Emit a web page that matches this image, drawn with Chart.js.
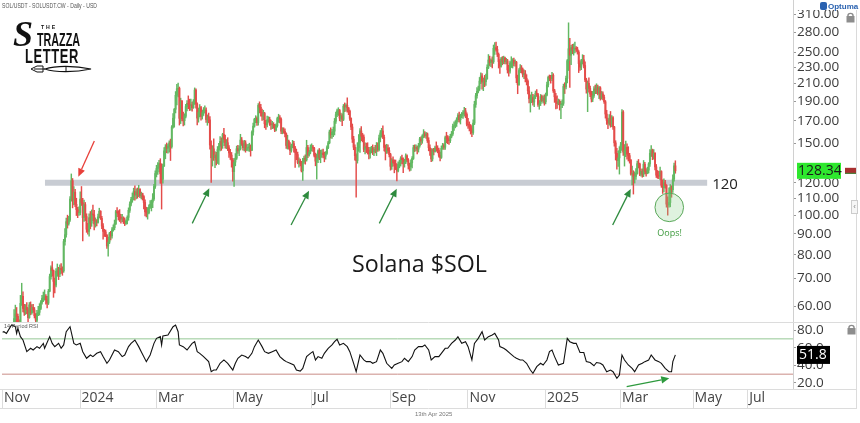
<!DOCTYPE html>
<html><head><meta charset="utf-8">
<script src="https://cdn.jsdelivr.net/npm/chart.js@4.4.1/dist/chart.umd.min.js"></script>
<style>
html,body{margin:0;padding:0;background:#fff;}
#wrap{position:relative;width:860px;height:423px;overflow:hidden;background:#fff;font-family:"Open Sans",sans-serif;}
#wrap canvas{position:absolute;left:0;}
.t{position:absolute;white-space:nowrap;line-height:1;transform-origin:0 0;}
</style></head><body>
<div id="wrap">
<canvas id="price" width="860" height="322" style="top:0"></canvas>
<canvas id="rsi" width="860" height="101" style="top:322px"></canvas>
<div class="t" id="ttl" style="left:2px;top:2px;font-size:7px;color:#555;font-family:'Liberation Sans'">SOL/USDT - SOLUSDT.CW - Daily - USD</div>
<div class="t" style="left:13px;top:13px;font:italic bold 36px 'Liberation Serif';color:#111">S</div>
<div class="t" id="lthe" style="left:41px;top:23.6px;font:bold 5.6px 'Liberation Sans';color:#111;letter-spacing:2px">THE</div>
<div class="t" id="ltra" style="left:37px;top:29.7px;font:bold 18px 'Liberation Sans';color:#111">TRAZZA</div>
<div class="t" id="llet" style="left:25px;top:44.2px;font:bold 21px 'Liberation Sans';color:#111;letter-spacing:1px">LETTER</div>
<svg style="position:absolute;left:30px;top:64px" width="62" height="10" viewBox="0 0 62 10">
 <path d="M1 5 L7 2 L13 2 L13 8 L7 8 Z" fill="none" stroke="#111" stroke-width="1"/>
 <line x1="4" y1="5" x2="15" y2="5" stroke="#111" stroke-width="1"/>
 <path d="M15 5 C25 1.5 45 1.5 61 5 C45 8.5 25 8.5 15 5 Z" fill="#fff" stroke="#111" stroke-width="1.1"/>
 <line x1="36" y1="2.5" x2="36" y2="7.5" stroke="#111" stroke-width="1"/>
</svg>
<div class="t" id="sol" style="left:352px;top:251px;font-size:24px;color:#1a1a1a">Solana $SOL</div>
<div class="t" style="left:4px;top:324px;font-size:5.5px;color:#555;font-family:'Liberation Sans'">14 Period RSI</div>
<div class="t" style="left:415px;top:411px;font-size:6px;color:#777;font-family:'Liberation Sans'">13th Apr 2025</div>
<div style="position:absolute;left:796px;top:0;width:64px;height:10px;background:#fff"></div>
<div style="position:absolute;left:820px;top:2px;width:7px;height:8px;background:#2a62b0;border-radius:2px"></div>
<div class="t" style="left:828px;top:2px;font:bold 8px 'Liberation Sans';color:#2a62b0">Optuma</div>
<div style="position:absolute;left:851px;top:200px;width:5px;height:12px;border:1px solid #ccc;background:#f6f6f6;font:8px 'Liberation Sans';color:#888;line-height:12px;text-align:center">&lsaquo;</div>
</div>
<script>
// ---------- DATA ----------
const firstOpen = 38.6; // Nov 1 2023 open (day 0 = 2023-11-01, daily)
const closes = [
// Nov 2023
40.0,42.6,39.8,40.5,41.4,43.0,42.9,43.3,45.6,55.9,57.4,56.6,53.9,52.6,60.9,63.4,59.2,58.0,59.6,58.7,56.2,60.4,57.8,59.5,58.7,56.8,55.4,57.5,57.9,59.2,
// Dec 2023
61.3,62.6,63.1,63.4,62.2,61.0,65.2,70.8,74.4,73.2,68.9,67.5,72.9,73.4,71.8,74.1,73.6,73.1,86.2,89.6,96.4,95.5,97.4,109.5,121.4,108.9,113.8,106.3,103.2,101.4,101.5,
// Jan 2024
109.5,107.2,98.6,106.1,99.2,92.4,91.3,98.6,95.6,100.7,100.1,95.2,96.2,96.0,99.1,102.2,98.2,94.1,91.3,91.0,89.4,84.1,85.9,90.1,89.0,92.1,93.2,95.3,102.0,101.4,100.6,
// Feb 2024
98.9,97.8,98.2,96.3,95.5,96.8,98.8,102.8,106.4,109.2,110.7,114.2,112.0,113.9,112.6,115.6,111.5,112.9,111.0,107.4,101.9,101.2,101.3,104.6,106.3,107.6,109.6,117.5,126.4,
// Mar 2024
130.0,130.8,133.7,126.2,122.4,131.8,143.6,146.7,145.8,147.6,150.2,147.1,164.2,172.5,181.4,196.3,203.6,204.0,172.4,189.8,172.0,170.1,174.4,184.2,187.6,186.6,185.3,186.0,183.1,189.4,202.1,
// Apr 2024
186.8,172.6,178.4,183.2,174.3,178.1,180.3,180.6,171.2,173.5,170.9,148.3,138.1,145.2,138.1,140.3,136.4,144.6,147.3,151.4,147.8,157.5,153.4,147.9,150.3,146.0,141.9,140.2,136.3,127.8,
// May 2024
134.8,137.8,145.3,143.6,145.1,152.6,149.4,146.2,150.1,144.6,145.9,146.3,147.0,144.1,159.6,165.0,171.5,172.3,168.3,185.4,183.4,178.1,174.6,177.2,167.2,166.2,171.0,171.3,167.2,166.4,166.8,
// Jun 2024
166.0,161.4,165.5,172.2,172.8,171.6,160.4,161.6,160.2,158.1,148.0,151.6,147.3,144.0,147.8,149.5,146.0,142.3,140.6,134.5,135.6,133.6,128.3,135.0,137.8,136.4,146.3,140.2,142.6,146.3,
// Jul 2024
146.8,145.8,140.0,135.5,137.6,143.7,138.2,141.0,141.8,140.6,139.4,141.6,146.2,150.2,159.7,157.2,159.3,160.4,169.6,176.0,179.9,180.2,172.6,174.8,171.4,184.6,183.9,185.4,182.8,179.6,172.4,
// Aug 2024
164.2,153.4,146.6,139.8,136.0,146.3,150.8,160.6,155.8,155.2,144.8,147.0,146.4,144.2,141.2,143.6,145.4,143.0,144.6,144.2,147.8,144.6,154.4,158.8,160.6,155.0,146.4,143.0,145.8,143.8,140.6,
// Sep 2024
131.6,136.4,134.2,133.8,130.6,128.2,133.0,134.6,137.8,136.6,133.6,134.8,139.6,136.4,132.4,131.4,134.2,137.6,146.2,145.8,146.4,145.0,147.8,153.6,151.8,156.2,158.0,156.4,158.0,152.2,
// Oct 2024
146.2,143.6,137.2,143.8,143.2,146.0,145.6,144.2,140.0,138.4,145.6,147.8,146.6,154.6,154.0,152.8,152.0,155.8,158.0,165.0,165.4,167.6,171.2,175.2,171.0,175.0,176.4,177.6,179.8,176.2,166.8,
// Nov 2024
166.2,164.2,162.6,159.2,167.8,186.4,195.8,200.6,203.4,212.6,218.8,211.4,212.0,211.8,215.2,229.8,239.4,236.0,238.8,237.0,255.6,256.4,254.0,247.0,237.2,231.2,241.0,237.4,242.2,237.0,
// Dec 2024
238.2,226.4,224.8,235.4,236.2,238.8,235.0,236.4,216.4,208.4,225.6,229.2,226.8,220.6,221.8,216.0,212.6,201.2,192.4,192.8,193.6,189.0,194.8,198.6,197.0,186.4,187.2,194.8,190.6,193.2,189.2,
// Jan 2025
196.4,208.2,217.0,216.6,215.4,219.6,201.2,194.6,189.0,187.2,189.6,186.2,186.4,187.6,206.2,205.8,215.8,238.4,255.0,246.0,256.6,252.8,254.6,255.8,254.4,250.2,234.6,230.0,236.6,239.6,232.0,
// Feb 2025
214.0,203.2,209.8,204.0,197.6,192.2,196.0,203.4,202.8,205.0,198.6,204.6,193.4,197.8,194.0,189.2,176.6,170.4,167.8,172.0,167.2,173.0,164.2,150.2,141.6,136.0,138.0,144.0,
// Mar 2025
148.4,178.6,142.6,143.8,146.4,141.0,139.8,136.4,126.0,126.4,124.2,124.4,126.6,133.6,133.4,126.0,128.0,126.0,133.2,128.0,126.4,128.8,133.4,141.6,143.8,139.2,141.6,131.2,125.2,124.8,124.6,
// Apr 2025
127.8,118.4,116.8,120.0,118.2,106.4,106.0,107.4,116.8,115.4,122.6,132.0,128.34
];
const highs = [
41.5,43.7,43.0,41.2,42.3,44.3,44.0,44.2,46.8,58.8,60.3,59.5,57.3,55.5,63.7,68.2,65.0,60.6,60.5,61.2,59.4,61.2,61.4,60.5,60.6,59.5,57.5,58.6,59.9,60.8,
61.9,63.7,64.9,65.7,64.0,63.4,65.9,71.8,75.2,77.0,73.5,70.2,74.1,76.0,74.6,75.6,76.2,74.8,87.3,92.8,98.4,100.0,99.3,111.0,126.1,122.9,117.5,115.6,110.0,104.5,104.8,
114.0,117.5,109.9,108.8,107.4,100.8,95.5,100.8,102.1,103.0,105.8,102.8,98.5,97.6,100.6,104.0,102.6,99.4,95.4,92.4,92.0,89.7,88.4,90.8,91.3,93.2,94.7,97.3,102.8,104.4,102.6,
103.2,100.5,100.5,99.1,98.5,97.4,99.7,104.2,107.8,110.6,113.3,116.4,118.0,116.0,116.5,118.3,116.2,113.9,113.2,111.7,109.0,104.6,104.4,106.0,108.5,108.8,112.9,119.0,128.3,
132.4,134.4,136.2,137.4,133.5,133.3,146.2,148.7,150.1,149.2,152.0,153.4,165.6,177.0,182.3,200.4,208.6,210.3,205.6,193.1,190.7,178.6,176.9,186.6,190.6,195.6,192.0,192.2,189.0,191.6,204.6,
203.5,188.0,182.6,186.3,184.4,180.7,183.2,185.0,183.0,175.8,177.6,174.0,152.0,147.8,153.6,143.0,142.4,147.1,149.7,155.5,154.5,158.5,163.0,157.0,153.0,154.6,148.0,144.8,142.3,137.6,
137.4,141.4,147.5,148.2,147.8,157.6,154.8,151.7,152.4,152.0,148.7,149.0,149.9,148.5,160.8,167.8,172.5,175.0,173.9,187.3,189.2,186.4,181.5,180.4,178.3,170.5,174.6,174.0,173.5,170.8,169.6,
168.3,166.8,167.2,173.6,176.4,175.2,173.0,163.6,163.5,162.6,159.0,156.8,152.6,150.5,149.0,152.3,151.4,147.2,145.0,142.6,138.0,137.0,135.4,137.6,139.5,140.4,152.4,148.2,144.0,148.5,
149.4,148.2,146.5,141.8,141.0,144.5,145.5,144.2,144.5,145.0,142.6,143.0,147.6,151.4,161.4,163.5,162.0,164.2,172.3,178.5,181.6,183.0,181.3,177.5,176.8,186.4,188.0,187.0,193.5,183.3,180.6,
172.8,167.0,155.8,148.6,141.2,150.3,157.4,162.8,164.6,158.5,157.2,150.2,150.0,150.3,146.4,146.5,147.3,148.5,146.5,148.2,150.5,150.2,157.0,161.0,163.0,165.2,157.0,148.5,149.0,148.5,146.2,
141.6,137.5,138.8,136.5,136.4,133.4,135.0,136.3,139.0,140.2,138.0,137.0,141.2,140.4,137.5,134.0,136.5,139.0,148.2,148.5,148.6,147.4,149.8,155.0,155.4,157.2,161.8,160.0,159.3,158.8,
154.6,148.6,145.5,145.3,145.6,147.5,151.0,147.8,145.8,142.6,147.6,149.8,149.4,156.0,159.4,156.4,155.5,157.6,160.2,167.0,169.0,170.2,173.0,177.0,178.6,176.5,178.2,180.2,183.4,182.4,177.8,
172.4,169.0,166.5,165.6,171.0,189.8,198.4,205.0,206.6,217.0,222.6,221.8,216.4,219.5,221.2,233.0,246.8,244.6,241.0,243.8,260.4,263.8,264.6,258.6,249.0,240.0,243.0,244.0,244.6,243.2,
241.6,240.2,232.4,238.0,243.8,241.2,242.0,239.6,237.6,219.8,228.0,233.4,232.0,228.6,226.4,225.6,220.4,214.2,206.0,196.8,199.8,197.2,196.4,201.0,202.8,198.4,190.6,197.2,196.4,195.6,196.8,
198.8,211.4,218.8,220.0,219.6,223.4,221.6,203.0,198.4,195.6,192.2,191.4,189.6,191.2,209.0,210.6,218.8,240.0,295.0,270.4,260.0,261.4,262.0,264.6,258.2,257.2,252.4,238.6,240.2,246.6,245.8,
237.0,216.0,212.6,216.4,206.6,200.8,200.6,206.0,208.0,209.4,208.0,206.4,206.0,200.6,200.2,196.6,190.6,180.4,172.6,176.0,179.2,175.2,174.0,164.8,152.0,145.6,143.4,147.0,
150.6,181.0,180.2,148.8,151.6,149.4,147.0,141.6,136.8,131.8,128.4,127.6,130.0,135.6,136.8,134.0,129.6,129.8,136.0,134.6,130.0,131.0,134.4,144.6,148.0,145.0,144.6,142.2,133.0,128.6,128.0,
131.0,128.4,122.0,122.6,121.6,118.8,110.8,116.6,118.8,118.0,125.4,134.0,135.8
];
const lows = [
38.0,39.6,38.5,38.9,40.1,41.1,41.6,41.9,42.6,45.2,54.2,54.8,52.0,50.6,52.3,60.2,58.0,56.9,57.2,57.5,54.6,56.0,57.1,57.3,57.9,56.1,54.1,54.6,56.8,57.0,
58.8,60.6,61.5,62.0,60.6,59.4,60.5,65.0,69.8,71.0,63.0,64.6,66.8,70.9,69.6,70.8,72.1,71.3,72.5,84.5,88.4,93.0,94.6,96.6,108.2,104.2,106.0,104.9,99.8,98.6,99.9,
100.2,105.6,86.5,96.5,97.0,90.8,89.9,88.9,92.6,93.9,97.0,92.0,93.5,94.2,95.6,98.6,97.6,92.7,87.4,88.7,88.6,83.0,79.4,85.2,87.0,87.9,91.4,92.1,94.8,99.1,97.3,
96.5,95.6,96.4,95.4,94.3,95.0,95.2,97.2,101.6,105.4,107.5,108.9,108.8,109.5,110.0,111.0,110.3,109.6,108.9,103.6,99.6,99.0,97.8,100.7,103.9,102.4,104.3,108.6,116.2,
124.0,125.8,127.5,119.6,103.5,119.7,131.6,137.3,142.0,141.8,142.6,136.0,145.8,163.1,164.0,177.7,186.0,194.6,166.0,167.4,170.0,165.2,166.0,172.8,179.7,182.0,180.1,180.4,179.6,182.3,186.4,
182.6,166.2,168.7,174.1,170.7,171.7,175.2,177.6,168.5,165.8,168.1,145.0,120.2,131.8,136.0,130.6,132.6,133.7,133.1,143.5,144.0,145.6,150.5,145.7,145.3,143.8,138.3,136.8,131.0,121.0,
117.5,132.0,136.8,141.6,139.7,144.3,148.0,144.2,143.5,142.5,143.8,143.5,143.1,139.4,143.8,156.8,164.0,168.2,165.7,166.0,177.7,174.6,170.5,171.0,163.5,162.0,164.3,168.6,165.6,161.9,162.6,
163.0,160.0,160.6,164.0,168.5,168.0,158.2,158.0,158.5,155.2,145.5,145.0,145.0,140.6,142.5,146.0,142.5,130.8,136.6,133.5,131.0,132.0,127.5,121.6,133.8,133.2,135.5,138.2,139.3,141.2,
143.5,143.1,138.8,132.0,122.5,134.4,136.6,134.3,138.6,137.9,135.0,137.0,140.8,145.3,149.4,154.3,154.0,155.5,157.0,167.5,174.0,175.2,170.0,169.4,165.5,170.2,179.0,179.5,178.5,176.0,170.3,
161.8,150.5,144.5,136.3,110.6,134.0,143.2,142.4,152.0,151.0,143.0,141.2,142.2,141.0,137.3,137.8,142.0,140.6,139.8,142.0,139.8,143.2,143.5,151.0,155.2,153.8,143.5,136.4,141.5,141.8,138.7,
128.8,129.4,131.8,126.9,129.2,121.2,127.6,130.5,131.8,133.4,127.0,131.0,133.6,135.2,129.6,128.1,128.6,130.5,136.8,143.0,143.5,141.2,142.6,146.5,148.6,149.8,154.5,154.8,154.0,150.5,
143.6,140.0,135.2,135.6,140.3,142.5,143.2,142.0,138.6,135.6,137.6,144.8,144.8,144.8,150.2,149.6,148.8,150.4,154.5,156.7,161.0,163.4,164.7,169.2,168.7,167.0,173.0,172.4,174.6,173.0,165.3,
162.8,160.6,157.8,155.6,157.4,166.4,183.4,193.2,199.0,201.6,209.4,203.0,201.4,206.0,207.4,215.0,228.0,232.0,230.4,229.0,234.8,246.8,251.6,244.0,228.8,222.0,229.8,233.0,234.4,234.0,
234.2,222.4,218.6,222.2,229.4,228.8,231.4,231.2,210.6,198.0,207.4,223.0,222.4,217.6,215.4,211.6,208.0,197.8,188.0,178.6,188.2,185.6,184.2,192.6,195.0,184.4,181.4,185.2,189.0,187.8,185.6,
187.0,195.6,205.8,213.0,210.2,213.0,199.4,188.6,181.8,182.4,186.0,180.6,172.0,183.0,185.4,198.2,203.4,210.4,225.6,205.0,233.0,248.0,246.0,249.0,251.0,247.4,223.0,225.6,226.8,234.0,228.8,
212.0,198.6,179.0,199.8,194.8,189.0,189.4,194.0,198.0,198.0,196.6,192.6,191.0,192.0,191.2,187.4,172.6,166.6,162.6,166.0,164.0,164.4,162.0,147.4,136.4,129.6,131.6,126.0,
142.0,144.2,140.0,131.8,139.0,137.0,135.6,134.0,125.2,118.6,112.6,119.8,122.2,126.0,130.4,124.8,124.6,123.8,124.2,126.2,124.6,126.2,126.8,131.6,139.2,136.6,137.0,129.0,123.6,123.0,122.8,
122.0,117.0,113.0,114.0,116.4,104.6,100.0,104.6,104.8,110.6,113.6,121.0,126.6
];
// 14-period RSI: [day index, value]
const rsiPoints = [[0,77.5],[1,78.1],[3,76.2],[7,85.7],[10,83.8],[11,76.2],[12,81.9],[14,72.5],[16,68.7],[19,55.5],[22,59.3],[24,57.4],[27,61.2],[29,59.3],[32,64.9],[33,59.3],[37,72.5],[39,64.9],[41,61.2],[44,64.9],[46,59.3],[48,63.1],[50,78.1],[53,83.8],[56,64.9],[58,63.1],[61,64.9],[63,55.5],[66,48.0],[69,51.7],[71,49.9],[74,53.6],[77,55.5],[79,49.9],[82,42.3],[84,46.1],[88,57.4],[91,55.5],[94,49.9],[96,51.7],[99,61.2],[101,64.9],[104,68.7],[107,61.2],[109,55.5],[113,44.2],[116,51.7],[119,64.9],[121,70.6],[124,72.5],[125,63.1],[126,73.2],[130,74.3],[134,83.8],[136,85.7],[138,78.1],[139,63.1],[142,61.2],[145,57.4],[149,64.9],[151,66.8],[153,55.5],[155,53.6],[158,49.9],[162,44.2],[164,32.8],[166,34.7],[168,34.7],[171,42.3],[174,46.1],[177,42.3],[181,34.7],[183,42.3],[185,48.0],[188,51.7],[191,49.9],[193,48.0],[196,53.6],[198,61.2],[201,68.7],[204,61.2],[206,55.5],[209,53.6],[212,55.5],[215,57.4],[218,49.9],[221,46.1],[223,44.2],[226,42.3],[229,40.4],[231,34.7],[234,33.5],[236,36.6],[239,49.9],[242,53.6],[244,55.5],[246,46.1],[248,49.9],[251,48.0],[253,53.6],[256,59.3],[259,63.1],[261,66.8],[263,69.5],[265,63.1],[268,64.9],[271,61.2],[273,55.5],[276,42.3],[278,32.8],[281,51.7],[284,46.1],[286,44.2],[289,44.2],[291,42.3],[294,44.2],[297,57.4],[299,53.6],[302,42.3],[306,36.6],[308,40.4],[311,42.3],[314,44.2],[316,48.0],[319,44.2],[322,49.9],[324,57.4],[327,61.2],[330,61.2],[332,63.1],[335,57.4],[337,46.1],[340,49.9],[343,49.9],[345,53.6],[348,59.3],[350,59.3],[353,64.9],[356,68.7],[358,72.5],[361,64.9],[364,66.8],[366,61.2],[369,46.1],[371,64.9],[374,70.6],[377,78.1],[379,68.7],[382,72.5],[385,74.3],[387,76.2],[390,68.7],[391,61.2],[394,59.3],[396,57.4],[399,53.6],[402,49.9],[404,48.0],[407,46.1],[409,46.1],[412,42.3],[415,34.7],[417,31.0],[420,38.5],[423,42.3],[425,40.4],[428,46.1],[430,55.5],[432,57.4],[434,49.9],[437,40.4],[441,42.3],[444,70.6],[446,66.8],[449,64.9],[451,64.9],[454,54.5],[457,54.5],[459,44.2],[462,43.2],[465,39.5],[467,43.2],[470,42.3],[472,40.4],[475,32.8],[478,34.7],[480,32.8],[483,25.3],[485,29.1],[487,51.7],[489,46.1],[492,40.4],[495,36.6],[497,32.8],[500,40.4],[503,42.3],[505,44.2],[508,46.1],[510,51.7],[513,46.1],[516,44.2],[518,42.3],[521,36.6],[524,32.8],[526,32.8],[527,44.2],[529,51.8]];
const rsiLevels = [70, 30];
const priceTicks = [60,70,80,90,100,110,120,150,170,190,210,230,250,280,310];
const rsiTicks = [20,40,60,80];
const monthLabels = ['Nov','2024','Mar','May','Jul','Sep','Nov','2025','Mar','May','Jul'];
const monthDays = [0,61,121,182,243,305,366,427,486,543,586];
const supportLevel = 120;
const lastClose = 128.34, lastRsi = 51.8;

// ---------- ANNOTATIONS (data coordinates) ----------
const notes = {
  band: {from: 33.3, to: 554},
  redArrow: [[72.1,151.7],[59.5,124.2]],
  greenArrows: [[[149.1,95.5],[162.5,116.3]],[[226.8,94.6],[240.9,114.8]],[[296.2,95.5],[309.9,116.1]],[[479.7,94.6],[493.9,115.9]]],
  circle: [524.2,104.5],
  oops: [524.5,90],
  rsiArrow: [[490.7,15.8],[524.2,25.3]]
};

// ---------- BUILD ----------
const X_MIN = -0.5, X_MAX = 621.5;
const GREEN = '#62b862', RED = '#e44c4a';
const days = closes.map((_, i) => i);
const opens = closes.map((c, i) => i === 0 ? firstOpen : closes[i-1]);
const colors = days.map(i => closes[i] >= opens[i] ? GREEN : RED);
const wickData = days.map(i => ({x: i, y: [Math.min(lows[i], opens[i], closes[i]), Math.max(highs[i], opens[i], closes[i])]}));
const bodyData = days.map(i => ({x: i, y: [opens[i], closes[i]]}));

function arrow(ctx, x1, y1, x2, y2, color, lw) {
  const a = Math.atan2(y2-y1, x2-x1), hl = 8, hw = 3.6;
  const bx = x2 - hl*Math.cos(a), by = y2 - hl*Math.sin(a);
  ctx.save();
  ctx.strokeStyle = color; ctx.lineWidth = lw;
  ctx.beginPath(); ctx.moveTo(x1,y1); ctx.lineTo(bx,by); ctx.stroke();
  ctx.fillStyle = color; ctx.beginPath(); ctx.moveTo(x2,y2);
  ctx.lineTo(bx - hw*Math.sin(a), by + hw*Math.cos(a));
  ctx.lineTo(bx + hw*Math.sin(a), by - hw*Math.cos(a));
  ctx.closePath(); ctx.fill(); ctx.restore();
}
function lock(ctx, x, y) {
  ctx.save(); ctx.fillStyle = '#8d8d8d'; ctx.strokeStyle = '#8d8d8d'; ctx.lineWidth = 1.4;
  ctx.beginPath(); ctx.arc(x+4.5, y+4, 2.6, Math.PI, 0); ctx.stroke();
  ctx.fillRect(x+0.5, y+4, 8, 6.5); ctx.restore();
}

const pricePlugin = {
  id: 'pricePlugin',
  beforeDatasetsDraw(chart) {
    const {ctx, scales:{x, y}} = chart;
    const yy = y.getPixelForValue(supportLevel);
    ctx.save(); ctx.strokeStyle = '#c8ccd3'; ctx.lineWidth = 6;
    ctx.beginPath(); ctx.moveTo(x.getPixelForValue(notes.band.from), yy); ctx.lineTo(x.getPixelForValue(notes.band.to), yy); ctx.stroke();
    ctx.restore();
  },
  afterDatasetsDraw(chart) {
    const {ctx, scales:{x, y}} = chart;
    const P = p => [x.getPixelForValue(p[0]), y.getPixelForValue(p[1])];
    const yy = y.getPixelForValue(supportLevel);
    ctx.save();
    ctx.fillStyle = '#222'; ctx.font = '15px "Open Sans"'; ctx.textBaseline = 'middle';
    ctx.fillText(String(supportLevel), x.getPixelForValue(notes.band.to) + 5, yy + 2);
    let [a, b] = notes.redArrow.map(P); arrow(ctx, a[0], a[1], b[0], b[1], '#e8403a', 1.3);
    notes.greenArrows.forEach(g => { const [s, e] = g.map(P); arrow(ctx, s[0], s[1], e[0], e[1], '#2e8b3e', 1.3); });
    const c = P(notes.circle);
    ctx.beginPath(); ctx.arc(c[0], c[1], 14.3, 0, Math.PI*2);
    ctx.fillStyle = 'rgba(140,210,140,0.28)'; ctx.fill();
    ctx.strokeStyle = '#5aa85a'; ctx.lineWidth = 1; ctx.stroke();
    const o = P(notes.oops);
    ctx.fillStyle = '#3d9a3d'; ctx.font = '9px "Open Sans"'; ctx.textAlign = 'center';
    ctx.fillText('Oops!', o[0], o[1]);
    // last price badge
    const by = y.getPixelForValue(lastClose);
    ctx.fillStyle = '#2ee82e'; ctx.fillRect(797, by - 8, 44, 16);
    ctx.fillStyle = '#1a1a1a'; ctx.font = '14px "Open Sans"'; ctx.textAlign = 'left';
    ctx.fillText(lastClose.toFixed(2), 798, by + 0.5);
    ctx.fillStyle = '#a83030'; ctx.fillRect(845, by - 3, 11, 6);
    ctx.fillStyle = '#3a8a3a'; ctx.fillRect(845, by + 2, 11, 1);
    lock(ctx, 846, 12);
    ctx.strokeStyle = '#dadada'; ctx.lineWidth = 1;
    ctx.beginPath(); ctx.moveTo(856.5, 0); ctx.lineTo(856.5, 322); ctx.stroke();
    ctx.restore();
  }
};

new Chart(document.getElementById('price'), {
  type: 'bar',
  data: { datasets: [
    {data: bodyData, backgroundColor: colors, barThickness: 1.3, grouped: false, borderWidth: 0},
    {data: wickData, backgroundColor: colors, barThickness: 0.8, grouped: false, borderWidth: 0}
  ]},
  options: {
    responsive: false, animation: false, devicePixelRatio: 1,
    layout: {padding: {left: 2, right: 0, top: 0, bottom: 0}},
    plugins: {legend: {display: false}, tooltip: {enabled: false}},
    scales: {
      x: {type: 'linear', min: X_MIN, max: X_MAX, display: false, offset: false},
      y: {type: 'logarithmic', position: 'right', min: 54.84, max: 335.4,
          afterBuildTicks: s => { s.ticks = priceTicks.map(v => ({value: v})); },
          afterFit: s => { s.width = 67; s.paddingTop = 0; s.paddingBottom = 0; },
          ticks: {callback: v => Number(v).toFixed(2), color: '#3a3a3a', font: {family: 'Open Sans', size: 13.5}, padding: 1, autoSkip: false, maxRotation: 0},
          grid: {drawOnChartArea: false, tickLength: 3, color: '#999'},
          border: {color: '#d0d0d0'}}
    }
  },
  plugins: [pricePlugin]
});

const rsiPlugin = {
  id: 'rsiPlugin',
  afterDraw(chart) {
    const {ctx, chartArea, scales:{x, y}} = chart;
    const P = p => [x.getPixelForValue(p[0]), y.getPixelForValue(p[1])];
    ctx.save();
    const [s, e] = notes.rsiArrow.map(P);
    arrow(ctx, s[0], s[1], e[0], e[1], '#2e9a3e', 1.3);
    const by = y.getPixelForValue(lastRsi);
    ctx.fillStyle = '#000'; ctx.fillRect(797, by - 9, 33, 18);
    ctx.fillStyle = '#fff'; ctx.font = '14px "Open Sans"'; ctx.textBaseline = 'middle';
    ctx.fillText(lastRsi.toFixed(1), 799, by + 0.5);
    lock(ctx, 847, 2);
    ctx.strokeStyle = '#dcdcdc'; ctx.lineWidth = 1;
    const b = chartArea.bottom;
    ctx.beginPath();
    ctx.moveTo(0, 0.5); ctx.lineTo(857, 0.5);
    ctx.moveTo(0, b + 0.5); ctx.lineTo(857, b + 0.5);
    ctx.moveTo(0, b + 19.5); ctx.lineTo(857, b + 19.5);
    ctx.moveTo(856.5, 0); ctx.lineTo(856.5, b + 19.5);
    monthDays.forEach(d => { const px = Math.round(x.getPixelForValue(d - 0.5)) + 0.5; ctx.moveTo(px, b); ctx.lineTo(px, b + 19); });
    ctx.stroke();
    ctx.restore();
  }
};

new Chart(document.getElementById('rsi'), {
  type: 'line',
  data: { datasets: [
    {data: rsiPoints.map(p => ({x: p[0], y: p[1]})), borderColor: '#111', borderWidth: 1.1, pointRadius: 0, tension: 0},
    {data: [{x: X_MIN, y: rsiLevels[0]}, {x: X_MAX, y: rsiLevels[0]}], borderColor: '#95c895', borderWidth: 1, pointRadius: 0},
    {data: [{x: X_MIN, y: rsiLevels[1]}, {x: X_MAX, y: rsiLevels[1]}], borderColor: '#c98c86', borderWidth: 1, pointRadius: 0}
  ]},
  options: {
    responsive: false, animation: false, devicePixelRatio: 1,
    layout: {padding: {left: 2, right: 0, top: 0, bottom: 15}},
    plugins: {legend: {display: false}, tooltip: {enabled: false}},
    scales: {
      x: {type: 'linear', min: X_MIN, max: X_MAX, position: 'bottom', offset: false,
          afterBuildTicks: s => { s.ticks = monthDays.map(d => ({value: d - 0.5})); },
          afterFit: s => { s.height = 19; s.paddingLeft = 0; s.paddingRight = 0; },
          ticks: {callback: (v, i) => monthLabels[i], align: 'start', labelOffset: 2, padding: 1, color: '#444', font: {family: 'Open Sans', size: 14}, autoSkip: false, maxRotation: 0},
          grid: {display: false, drawTicks: false}, border: {display: false}},
      y: {position: 'right', min: 13.2, max: 89.1,
          afterBuildTicks: s => { s.ticks = rsiTicks.map(v => ({value: v})); },
          afterFit: s => { s.width = 67; s.paddingTop = 0; s.paddingBottom = 0; },
          ticks: {callback: v => Number(v).toFixed(1), color: '#3a3a3a', font: {family: 'Open Sans', size: 13.5}, padding: 1, autoSkip: false},
          grid: {drawOnChartArea: false, tickLength: 3, color: '#999'},
          border: {color: '#d0d0d0'}}
    }
  },
  plugins: [rsiPlugin]
});

// fit static label widths to the reference
function fitW(id, w) { const el = document.getElementById(id); const cw = el.getBoundingClientRect().width; el.style.transform = 'scaleX(' + (w / cw) + ')'; }
fitW('ttl', 95); fitW('ltra', 43); fitW('llet', 54); fitW('lthe', 16); fitW('sol', 135);
</script>
</body></html>
